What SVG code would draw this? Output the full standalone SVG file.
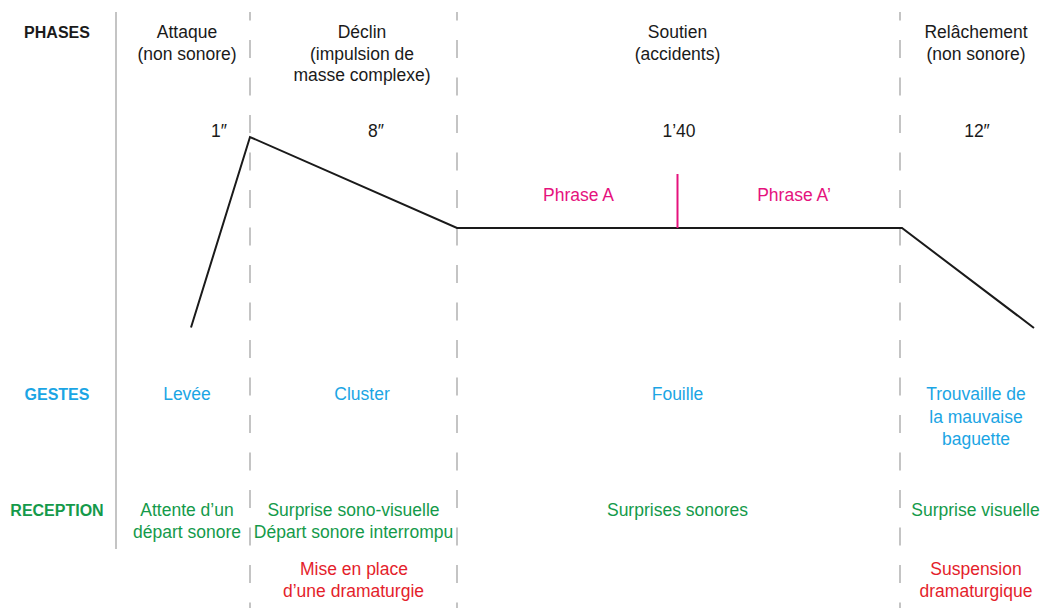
<svg xmlns="http://www.w3.org/2000/svg" width="1042" height="608" viewBox="0 0 1042 608">
<style>
text{font-family:"Liberation Sans",Arial,sans-serif;font-size:17.5px;text-anchor:middle}
.hd{font-weight:bold;font-size:16px}
.k{fill:#1a1a1a}
.b{fill:#1ba5e4}
.g{fill:#149a4a}
.r{fill:#e41e2b}
.p{fill:#e5127d}
.sep{stroke:#c4c4c4;stroke-width:2;fill:none}
.dash{stroke-dasharray:18 19.5;stroke-dashoffset:9.5}
.env{stroke:#1a1a1a;stroke-width:2;fill:none;stroke-linejoin:miter}
</style>
<rect width="1042" height="608" fill="#fff"/>
<g id="separators">
<line class="sep" x1="116" y1="12" x2="116" y2="549"/>
<line class="sep dash" x1="250" y1="12" x2="250" y2="608"/>
<line class="sep dash" x1="457" y1="12" x2="457" y2="608"/>
<line class="sep dash" x1="900" y1="12" x2="900" y2="608"/>
</g>
<g id="connectors">
<polyline class="env" points="191,327.5 250,137 457,228 902,228 1034,328"/>
<line x1="677.5" y1="174" x2="677.5" y2="228" stroke="#e5127d" stroke-width="2"/>
</g>
<g id="row-labels">
<text class="hd k" x="57" y="38">PHASES</text>
<text class="hd b" x="57" y="400">GESTES</text>
<text class="hd g" x="57" y="516">RECEPTION</text>
</g>
<g id="phase-attaque">
<text class="k" x="187" y="38">Attaque</text>
<text class="k" x="187" y="59.5">(non sonore)</text>
<text class="k" x="219" y="137">1″</text>
</g>
<g id="phase-declin">
<text class="k" x="362" y="38">Déclin</text>
<text class="k" x="362" y="59.5">(impulsion de</text>
<text class="k" x="362" y="81">masse complexe)</text>
<text class="k" x="376" y="137">8″</text>
</g>
<g id="phase-soutien">
<text class="k" x="677.5" y="38">Soutien</text>
<text class="k" x="677.5" y="59.5">(accidents)</text>
<text class="k" x="679" y="137">1’40</text>
<text class="p" x="578.5" y="201">Phrase A</text>
<text class="p" x="794" y="201">Phrase A’</text>
</g>
<g id="phase-relachement">
<text class="k" x="976" y="38">Relâchement</text>
<text class="k" x="976" y="59.5">(non sonore)</text>
<text class="k" x="977" y="137">12″</text>
</g>
<g id="gestes">
<text class="b" x="187" y="400">Levée</text>
<text class="b" x="362" y="400">Cluster</text>
<text class="b" x="677.5" y="400">Fouille</text>
<text class="b" x="976" y="400">Trouvaille de</text>
<text class="b" x="976" y="422.5">la mauvaise</text>
<text class="b" x="976" y="445">baguette</text>
</g>
<g id="reception">
<text class="g" x="187" y="516">Attente d’un</text>
<text class="g" x="187" y="538">départ sonore</text>
<text class="g" x="353.5" y="516">Surprise sono-visuelle</text>
<text class="g" x="353.5" y="538">Départ sonore interrompu</text>
<text class="g" x="677.5" y="516">Surprises sonores</text>
<text class="g" x="975.5" y="516">Surprise visuelle</text>
</g>
<g id="dramaturgie">
<text class="r" x="354" y="575">Mise en place</text>
<text class="r" x="353.5" y="597">d’une dramaturgie</text>
<text class="r" x="976" y="575">Suspension</text>
<text class="r" x="976" y="597">dramaturgique</text>
</g>
</svg>
